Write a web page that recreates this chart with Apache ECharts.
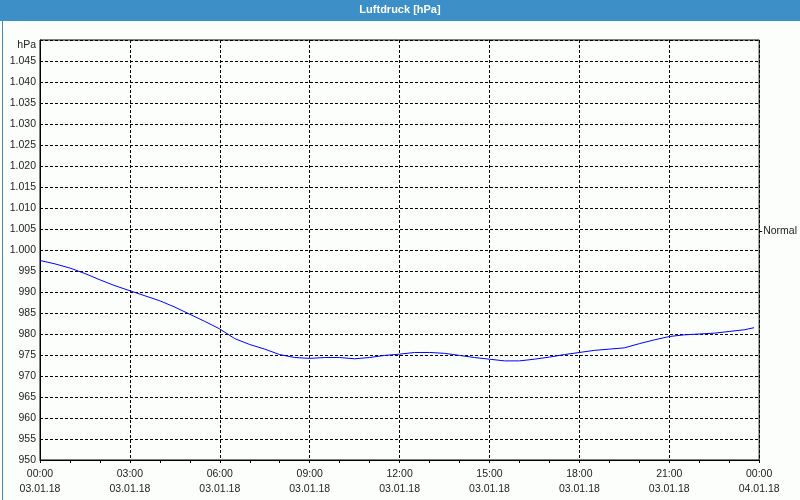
<!DOCTYPE html>
<html>
<head>
<meta charset="utf-8">
<script src="https://cdn.jsdelivr.net/npm/echarts@6/dist/echarts.min.js"></script>
<style>
html,body{margin:0;padding:0;background:#fcfefc;}
#c{width:800px;height:500px;}
</style>
</head>
<body>
<div id="c"></div>
<script>
var chartTitle = 'Luftdruck [hPa]';
var yUnit = 'hPa';
var normalLabel = 'Normal';
var normalValue = 1004.5;
var hours = [0,0.5,1,1.5,2,2.5,3,3.5,4,4.5,5,5.5,6,6.5,7,7.5,8,8.5,9,9.5,10,10.5,11,11.5,12,12.5,13,13.5,14,14.5,15,15.5,16,16.5,17,17.5,18,18.5,19,19.5,20,20.5,21,21.5,22,22.5,23,23.5,23.83];
var pressure = [997.5,996.7,995.7,994.4,992.9,991.5,990.3,989.1,987.9,986.4,984.7,983.0,981.2,978.9,977.5,976.4,975.1,974.4,974.2,974.4,974.4,974.1,974.4,974.9,975.2,975.6,975.6,975.4,974.9,974.4,974.0,973.6,973.6,974.0,974.5,975.1,975.6,976.1,976.4,976.7,977.7,978.6,979.4,979.8,980.0,980.2,980.6,981.0,981.5];
var xTickHours = [0,3,6,9,12,15,18,21,24];
var xTimeLabels = ['00:00','03:00','06:00','09:00','12:00','15:00','18:00','21:00','00:00'];
var xDateLabels = ['03.01.18','03.01.18','03.01.18','03.01.18','03.01.18','03.01.18','03.01.18','03.01.18','04.01.18'];

var FONT = 'Liberation Sans';
var chart = echarts.init(document.getElementById('c'), null, {renderer:'canvas'});
function fmtY(v){
  if (v >= 1000) { var r = String(v % 1000); while (r.length < 3) r = '0' + r; return Math.floor(v/1000) + '.' + r; }
  return String(v);
}
var data = hours.map(function(h,i){ return [h, pressure[i]]; });
chart.setOption({
  backgroundColor: '#fcfefc',
  animation: false,
  graphic: [
    {type:'rect', left:0, top:0, shape:{width:800, height:21}, style:{fill:'#3c8fc7'}, z:10},
    {type:'rect', left:0, top:0, shape:{x:0.5, y:0.5, width:799, height:499}, style:{fill:null, stroke:'#3c8fc7', lineWidth:1}, z:10},
    {type:'text', left:'center', top:4, style:{text:chartTitle, fill:'#ffffff', font:'bold 11px "Liberation Sans"'}, z:11}
  ],
  grid: {left:40, right:40, top:40, bottom:40, show:true, borderColor:'#000', borderWidth:1, backgroundColor:'transparent'},
  xAxis: {
    type:'value', min:0, max:24, interval:3,
    axisLine:{show:true, lineStyle:{color:'#000', width:1}},
    axisTick:{show:true, length:3, lineStyle:{color:'#000'}},
    minorTick:{show:true, splitNumber:3, length:3, lineStyle:{color:'#000'}},
    splitLine:{show:true, lineStyle:{color:'#000', type:[3,2], width:1}},
    axisLabel:{
      margin:7, color:'#222', fontFamily:FONT, fontSize:10.5, lineHeight:15,
      formatter:function(v){ var i = xTickHours.indexOf(v); return i < 0 ? '' : xTimeLabels[i] + '\n' + xDateLabels[i]; }
    }
  },
  yAxis: [{
    type:'value', min:950, max:1050, interval:5,
    name: yUnit, nameLocation:'end', nameGap:-5,
    nameTextStyle:{align:'right', verticalAlign:'middle', padding:[0,4,0,0], color:'#222', fontFamily:FONT, fontSize:10.5},
    axisLine:{show:true, lineStyle:{color:'#000'}},
    axisTick:{show:false},
    splitLine:{show:true, lineStyle:{color:'#000', type:[3,2], width:1}},
    axisLabel:{margin:4, color:'#222', fontFamily:FONT, fontSize:10.5, showMaxLabel:false, formatter:fmtY}
  },{
    type:'value', min:950, max:1050, position:'right',
    axisLine:{show:false},
    splitLine:{show:false},
    axisTick:{show:true, length:3, customValues:[normalValue], lineStyle:{color:'#000'}},
    axisLabel:{show:true, margin:4, color:'#222', fontFamily:FONT, fontSize:10.5, customValues:[normalValue], formatter:function(){ return normalLabel; }}
  }],
  series: [{
    type:'line', data:data, showSymbol:false, symbol:'none', smooth:false,
    lineStyle:{color:'#0000ff', width:1}, xAxisIndex:0, yAxisIndex:0
  }]
});
</script>
</body>
</html>
